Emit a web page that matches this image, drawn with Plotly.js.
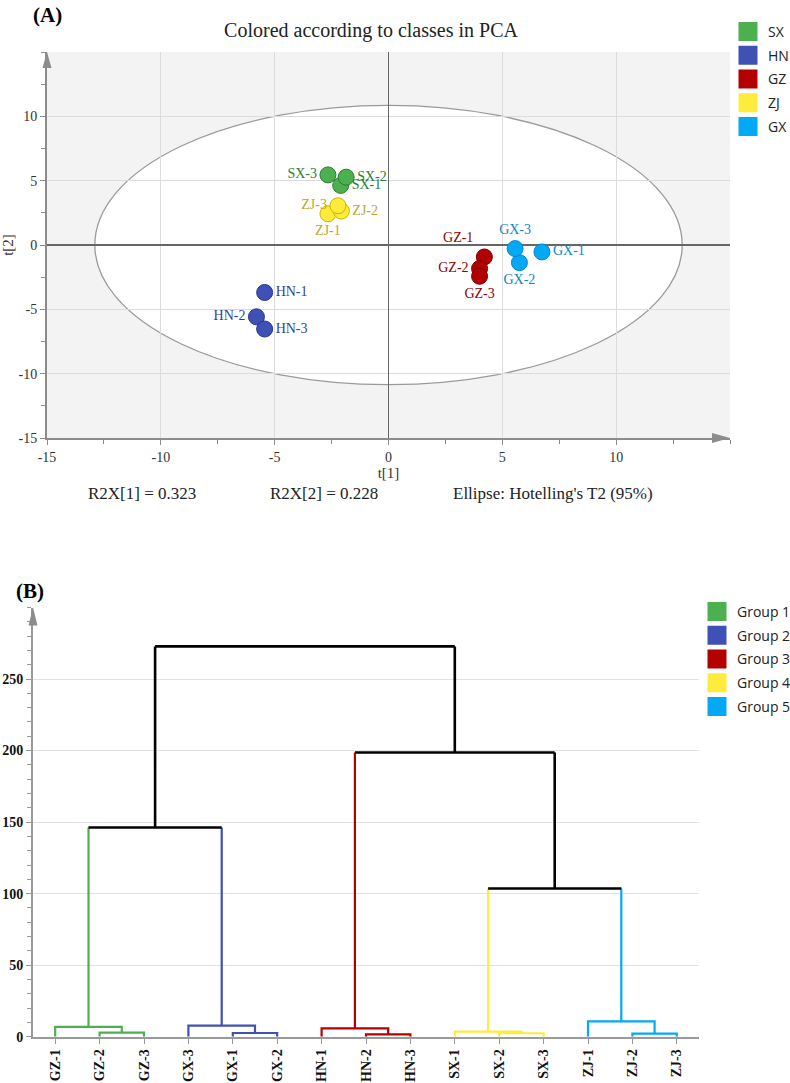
<!DOCTYPE html>
<html>
<head>
<meta charset="utf-8">
<script src="https://cdn.plot.ly/plotly-3.0.1.min.js"></script>
<style>
  html, body { margin: 0; padding: 0; background: #fff; }
  #chart { width: 790px; height: 1083px; }
</style>
</head>
<body>
<div id="chart"></div>
<script>
// (A) PCA scores
const classNames = ["SX", "HN", "GZ", "ZJ", "GX"];
const sampleLabels = ["SX-1", "SX-2", "SX-3", "HN-1", "HN-2", "HN-3", "GZ-1", "GZ-2", "GZ-3",
  "ZJ-1", "ZJ-2", "ZJ-3", "GX-1", "GX-2", "GX-3"];
const sampleClass = [0, 0, 0, 1, 1, 1, 2, 2, 2, 3, 3, 3, 4, 4, 4];
const t1 = [-2.1, -1.86, -2.66, -5.44, -5.8, -5.44, 4.21, 4.0, 4.0, -2.66, -2.07, -2.22, 6.74, 5.75, 5.56];
const t2 = [4.63, 5.27, 5.45, -3.69, -5.58, -6.53, -0.93, -1.83, -2.43, 2.43, 2.64, 3.05, -0.54, -1.37, -0.28];
const r2x = [0.323, 0.228];
const hotellingT1 = 12.9;
const hotellingT2 = 10.85;

// (B) dendrogram
const leafLabels = ["GZ-1", "GZ-2", "GZ-3", "GX-3", "GX-1", "GX-2", "HN-1", "HN-2", "HN-3",
  "SX-1", "SX-2", "SX-3", "ZJ-1", "ZJ-2", "ZJ-3"];
const leafGroup = [0, 0, 0, 1, 1, 1, 2, 2, 2, 3, 3, 3, 4, 4, 4];
const groupNames = ["Group 1", "Group 2", "Group 3", "Group 4", "Group 5"];
// nodes 0..14 are leaves, merge k creates node 15 + k
const mergeLeft = [1, 0, 4, 3, 7, 6, 10, 9, 13, 12, 16, 22, 20, 25];
const mergeRight = [2, 15, 5, 17, 8, 19, 11, 21, 14, 23, 18, 24, 26, 27];
const mergeHeight = [2.8, 6.8, 2.6, 7.7, 1.6, 5.8, 2.4, 3.6, 2.1, 10.7, 146.2, 103.6, 198.6, 272.8];

// colours
const fillColors = ["#4caf50", "#3f51b5", "#b30000", "#ffeb3b", "#03a9f4"];
const edgeColors = ["#2e7d32", "#283593", "#7a0000", "#c9b600", "#0288d1"];
const textColors = ["#2e7d32", "#303f9f", "#8b0000", "#bfa62a", "#0a88c8"];
const labelPos = {
  "SX-1": "middle right", "SX-2": "middle right", "SX-3": "middle left",
  "HN-1": "middle right", "HN-2": "middle left", "HN-3": "middle right",
  "GZ-1": "top left", "GZ-2": "middle left", "GZ-3": "bottom center",
  "ZJ-1": "bottom center", "ZJ-2": "middle right", "ZJ-3": "middle left",
  "GX-1": "middle right", "GX-2": "bottom center", "GX-3": "top center"
};

const W = 790, H = 1083;
const px = (v) => v / W;
const py = (v) => 1 - v / H;
const serif = "Liberation Serif, Times New Roman, serif";
const sans = "Open Sans, Noto Sans, sans-serif";

const traces = [];

// PCA points, one trace per class
classNames.forEach((name, c) => {
  const idx = sampleClass.map((k, i) => (k === c ? i : -1)).filter((i) => i >= 0);
  traces.push({
    type: "scatter",
    mode: "markers+text",
    x: idx.map((i) => t1[i]),
    y: idx.map((i) => t2[i]),
    text: idx.map((i) => sampleLabels[i]),
    textposition: idx.map((i) => labelPos[sampleLabels[i]]),
    textfont: { family: serif, size: 14, color: textColors[c] },
    marker: { size: 16, color: fillColors[c], line: { color: edgeColors[c], width: 1 } },
    showlegend: false,
    hoverinfo: "text",
    xaxis: "x",
    yaxis: "y",
  });
});

// legend squares
function legendSquare(name, color, xa, ya, legendId, k) {
  return {
    type: "scatter",
    mode: "markers",
    x: [null],
    y: [null],
    name: name,
    legendgroup: legendId + k,
    marker: { symbol: "square", size: 16, color: color, line: { color: color, width: 3 } },
    xaxis: xa,
    yaxis: ya,
    legend: legendId,
  };
}
classNames.forEach((name, c) => traces.push(legendSquare(name, fillColors[c], "x", "y", "legend", c)));

// dendrogram segments, grouped by colour (-1 = black)
const nodeX = leafLabels.map((_, i) => i);
const nodeH = leafLabels.map(() => 0);
const nodeG = leafGroup.slice();
const segs = {};
function addSeg(g, xs, ys) {
  if (!segs[g]) segs[g] = { x: [], y: [] };
  segs[g].x.push(...xs, null);
  segs[g].y.push(...ys, null);
}
mergeHeight.forEach((h, k) => {
  const a = mergeLeft[k], b = mergeRight[k];
  const g = nodeG[a] === nodeG[b] ? nodeG[a] : -1;
  if (g !== -1) {
    addSeg(g, [nodeX[a], nodeX[a], nodeX[b], nodeX[b]], [nodeH[a], h, h, nodeH[b]]);
  } else {
    addSeg(nodeG[a], [nodeX[a], nodeX[a]], [nodeH[a], h]);
    addSeg(nodeG[b], [nodeX[b], nodeX[b]], [nodeH[b], h]);
    addSeg(-1, [nodeX[a], nodeX[b]], [h, h]);
  }
  nodeX.push((nodeX[a] + nodeX[b]) / 2);
  nodeH.push(h);
  nodeG.push(g);
});

[0, 1, 2, 3, 4, -1].forEach((g) => {
  if (!segs[g]) return;
  traces.push({
    type: "scatter",
    mode: "lines",
    x: segs[g].x,
    y: segs[g].y,
    line: { color: g === -1 ? "#000" : fillColors[g], width: g === -1 ? 2.6 : 2.2 },
    showlegend: false,
    hoverinfo: "skip",
    xaxis: "x2",
    yaxis: "y2",
  });
});

groupNames.forEach((name, g) => traces.push(legendSquare(name, fillColors[g], "x2", "y2", "legend2", g)));

const tickA = [-15, -10, -5, 0, 5, 10];
const tickB = [0, 50, 100, 150, 200, 250];
const axisGray = "#8c8c8c";

const pcaAxis = {
  range: [-15, 15],
  tickmode: "array",
  tickvals: tickA,
  ticktext: tickA.map(String),
  ticks: "outside",
  ticklen: 5,
  tickcolor: axisGray,
  minor: { dtick: 2.5, tick0: 0, ticks: "outside", ticklen: 4, tickcolor: axisGray, showgrid: false },
  showgrid: true,
  gridcolor: "#dcdcdc",
  gridwidth: 1,
  zeroline: true,
  zerolinecolor: "#666",
  zerolinewidth: 1.5,
  showline: true,
  linecolor: axisGray,
  linewidth: 2,
  tickfont: { family: serif, size: 14, color: "#333" },
  fixedrange: true,
};

const legendBase = {
  xanchor: "left",
  yanchor: "top",
  font: { family: sans, size: 14, color: "#222" },
  bgcolor: "rgba(0,0,0,0)",
  traceorder: "grouped",
  tracegroupgap: 2.5,
  itemclick: false,
  itemdoubleclick: false,
};

const centered = (text, x, y, size, bold) => ({
  text: text, xref: "paper", yref: "paper", x: px(x), y: py(y),
  xanchor: "center", yanchor: "middle", showarrow: false,
  font: { family: serif, size: size, color: bold ? "#000" : "#222", weight: bold ? "bold" : "normal" },
});

const layout = {
  width: W,
  height: H,
  margin: { l: 0, r: 0, t: 0, b: 0, autoexpand: false },
  paper_bgcolor: "#fff",
  plot_bgcolor: "rgba(0,0,0,0)",
  title: {
    text: "Colored according to classes in PCA",
    x: px(371), xanchor: "center", xref: "paper",
    y: py(30), yanchor: "middle", yref: "paper",
    font: { family: serif, size: 20, color: "#222" },
  },
  xaxis: Object.assign({}, pcaAxis, {
    domain: [px(47), px(730)],
    anchor: "y",
    title: { text: "t[1]", font: { family: serif, size: 15, color: "#333" }, standoff: 2 },
  }),
  yaxis: Object.assign({}, pcaAxis, {
    domain: [py(438), py(52)],
    anchor: "x",
    title: { text: "t[2]", font: { family: serif, size: 15, color: "#333" }, standoff: 6 },
  }),
  xaxis2: {
    domain: [px(33), px(699)],
    anchor: "y2",
    range: [-0.5, 14.5],
    tickmode: "array",
    tickvals: leafLabels.map((_, i) => i),
    ticktext: leafLabels,
    tickangle: -90,
    ticks: "outside",
    ticklen: 5,
    tickcolor: "#999",
    showgrid: false,
    zeroline: false,
    showline: true,
    linecolor: "#9a9a9a",
    linewidth: 2,
    tickfont: { family: serif, size: 14, color: "#111", weight: "bold" },
    fixedrange: true,
  },
  yaxis2: {
    domain: [py(1036.7), py(607.5)],
    anchor: "x2",
    range: [0, 300],
    tickmode: "array",
    tickvals: tickB,
    ticks: "outside",
    ticklen: 5,
    tickcolor: "#999",
    minor: { dtick: 10, tick0: 0, ticks: "outside", ticklen: 4, tickcolor: "#999", showgrid: false },
    showgrid: true,
    gridcolor: "#e2e2e2",
    zeroline: false,
    showline: true,
    linecolor: "#9a9a9a",
    linewidth: 2,
    tickfont: { family: serif, size: 14, color: "#111", weight: "bold" },
    fixedrange: true,
  },
  legend: Object.assign({}, legendBase, { x: px(728), y: py(16) }),
  legend2: Object.assign({}, legendBase, { x: px(697), y: py(596) }),
  shapes: [
    // grey plot area and Hotelling T2 ellipse
    { type: "rect", xref: "x domain", yref: "y domain", x0: 0, x1: 1, y0: 0, y1: 1,
      fillcolor: "#f3f3f3", line: { width: 0 }, layer: "below" },
    { type: "circle", xref: "x", yref: "y", x0: -hotellingT1, x1: hotellingT1, y0: -hotellingT2, y1: hotellingT2,
      fillcolor: "#fff", line: { color: "#9a9a9a", width: 1.3 }, layer: "below" },
    // axis arrows
    { type: "path", xref: "x domain", yref: "y domain", xsizemode: "pixel", ysizemode: "pixel",
      xanchor: 0, yanchor: 1, path: "M-4.5,-16L4.5,-16L0,0Z", fillcolor: axisGray, line: { width: 0 } },
    { type: "path", xref: "x domain", yref: "y domain", xsizemode: "pixel", ysizemode: "pixel",
      xanchor: 1, yanchor: 0, path: "M-18,-5L-18,5L0,0Z", fillcolor: axisGray, line: { width: 0 } },
    { type: "path", xref: "x2 domain", yref: "y2 domain", xsizemode: "pixel", ysizemode: "pixel",
      xanchor: 0, yanchor: 1, path: "M-4.5,-18L4.5,-18L0,0Z", fillcolor: "#8c8c8c", line: { width: 0 } },
  ],
  annotations: [
    centered("(A)", 47.5, 15, 21, true),
    centered("(B)", 29.5, 591, 21, true),
    centered("R2X[1] = " + r2x[0], 142, 493, 17, false),
    centered("R2X[2] = " + r2x[1], 324, 493, 17, false),
    centered("Ellipse: Hotelling's T2 (95%)", 553, 493, 17, false),
  ],
  showlegend: true,
  hovermode: "closest",
};

Plotly.newPlot("chart", traces, layout, { displayModeBar: false, staticPlot: true });
</script>
</body>
</html>
